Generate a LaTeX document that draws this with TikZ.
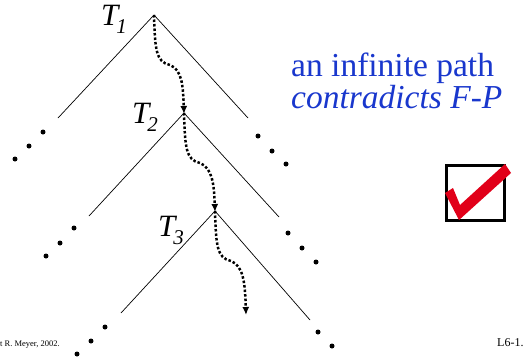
\documentclass[tikz,border=0pt]{standalone}
\usepackage{fontspec}
\setmainfont{Liberation Serif}
\usetikzlibrary{arrows.meta}
\definecolor{txtblue}{RGB}{25,55,205}
\definecolor{chkred}{RGB}{225,0,25}
\begin{document}
\begin{tikzpicture}[x=1pt,y=-1pt,
  branch/.style={line width=0.7pt},
  pathdots/.style={line width=2.5pt,dotted,-{Latex[length=8pt,width=7pt]},shorten >=-1pt},
  ddot/.style={circle,fill=black,inner sep=0pt,minimum size=5pt},
  tlabel/.style={anchor=base west,inner sep=0pt,font=\fontsize{31}{31}\selectfont\itshape},
  bluetext/.style={anchor=base west,inner sep=0pt,text=txtblue,font=\fontsize{33.5}{33.5}\selectfont}]
\useasboundingbox (0,0) rectangle (525,357);
% apexes and branch ends
\coordinate (a1) at (154,15);
\coordinate (l1) at (58,118);
\coordinate (r1) at (248,118);
\coordinate (a2) at (184,113);
\coordinate (l2) at (89,216);
\coordinate (r2) at (279,217);
\coordinate (a3) at (215,211);
\coordinate (l3) at (121,313);
\coordinate (r3) at (310,320);
\coordinate (e4) at (246,314);
\draw[branch] (l1) -- (a1) -- (r1);
\draw[branch] (l2) -- (a2) -- (r2);
\draw[branch] (l3) -- (a3) -- (r3);
% continuation dots
\foreach \p [count=\i] in {(43,132),(29,146),(15,159),(258,136),(272,151),(286,164),
  (74,228),(60,243),(46,256),(288,233),(302,248),(316,262),
  (105,327),(91,341),(77,354),(318,332),(332,346)}
  \node[ddot] (d\i) at \p {};
% infinite path
\draw[pathdots] (a1) .. controls (155,50) and (156,62) .. (170,65)
  .. controls (182,70) and (183,85) .. (a2);
\draw[pathdots] (a2) .. controls (185,148) and (186,160) .. (200,163)
  .. controls (212,168) and (214,183) .. (a3);
\draw[pathdots] (a3) .. controls (216,246) and (217,258) .. (231,261)
  .. controls (243,266) and (245,281) .. (e4);
% labels
\node[tlabel] (t1) at (101,25) {T\kern-2pt\raisebox{-8pt}{\fontsize{21}{21}\selectfont 1}};
\node[tlabel] (t2) at (132,123) {T\kern-2pt\raisebox{-8pt}{\fontsize{21}{21}\selectfont 2}};
\node[tlabel] (t3) at (158,236) {T\kern-2pt\raisebox{-8pt}{\fontsize{21}{21}\selectfont 3}};
\node[bluetext] (b1) at (291,76) {an infinite path};
\node[bluetext] (b2) at (291,108) {\itshape contradicts F-P};
% checkbox
\draw[line width=3pt] (446,165) rectangle (504,220);
\fill[chkred] (445,193) -- (453,188) -- (460,205) -- (505,164) -- (511,173) -- (459,220) -- cycle;
% footer
\node[anchor=base west,inner sep=0pt,font=\fontsize{8.5}{8.5}\selectfont] (f1) at (0,346) {t R. Meyer, 2002.};
\node[anchor=base west,inner sep=0pt,font=\fontsize{12}{12}\selectfont] (f2) at (497,346) {L6-1.};
\end{tikzpicture}
\end{document}
